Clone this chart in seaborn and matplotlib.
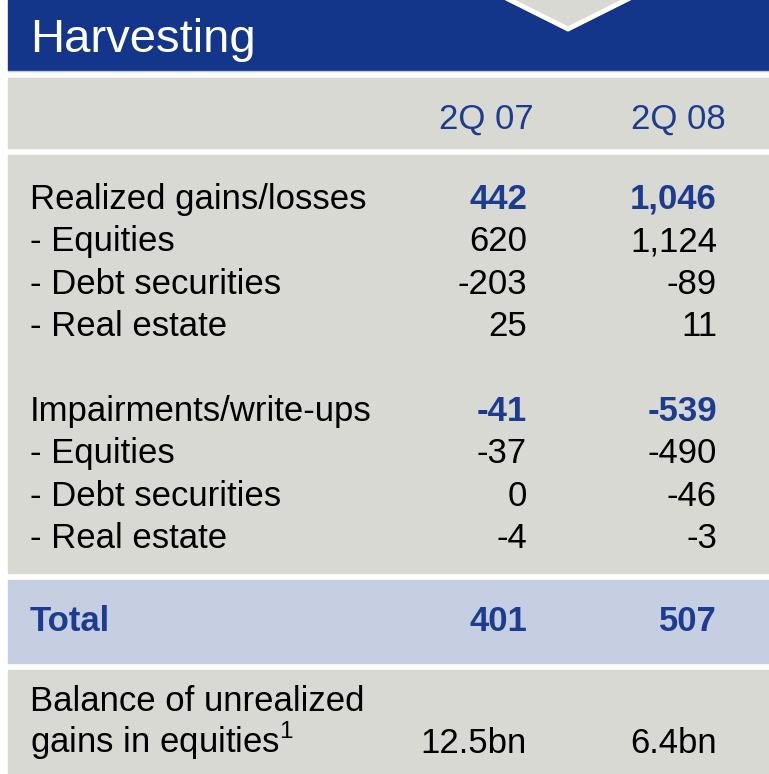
import matplotlib
matplotlib.use("Agg")
import matplotlib.pyplot as plt
import seaborn as sns
from matplotlib.patches import Rectangle, Polygon

# =====================================================
# Data
# =====================================================

title = "Harvesting"
periods = ["2Q 07", "2Q 08"]

realized_labels = ["Realized gains/losses", "- Equities", "- Debt securities", "- Real estate"]
realized_2q07 = [442, 620, -203, 25]
realized_2q08 = [1046, 1124, -89, 11]

impair_labels = ["Impairments/write-ups", "- Equities", "- Debt securities", "- Real estate"]
impair_2q07 = [-41, -37, 0, -4]
impair_2q08 = [-539, -490, -46, -3]

total_label = "Total"
total_values = [401, 507]

balance_label = ["Balance of unrealized", r"gains in equities$^{\mathregular{1}}$"]
balance_values = [12.5, 6.4]

# =====================================================
# Style
# =====================================================

sns.set_style("white")
plt.rcParams["font.family"] = ["Liberation Sans", "DejaVu Sans"]
plt.rcParams["mathtext.fontset"] = "custom"
plt.rcParams["mathtext.rm"] = "Liberation Sans"

BLUE = "#13358a"
TEXT_BLUE = "#1c3c90"
GRAY = "#d9d9d4"
LIGHT_BLUE = "#c6cee2"

W, H = 769, 774
fig = plt.figure(figsize=(W / 100, H / 100), dpi=100)
ax = fig.add_axes([0, 0, 1, 1])
ax.set_xlim(0, W)
ax.set_ylim(H, 0)
ax.axis("off")

# background bands
ax.add_patch(Rectangle((8, 0), W, 70, color=BLUE, zorder=1))
ax.plot([8, W], [70.5, 70.5], color="#b8c3de", lw=1, zorder=2)
ax.add_patch(Rectangle((8, 78), W, 70, color=GRAY, zorder=1))
ax.add_patch(Rectangle((8, 155), W, 418, color=GRAY, zorder=1))
ax.add_patch(Rectangle((8, 580), W, 83, color=LIGHT_BLUE, zorder=1))
ax.add_patch(Rectangle((8, 670), W, 110, color=GRAY, zorder=1))

# chevron at top
ax.add_patch(Polygon([(498, -6), (568, 29), (638, -6)], closed=True,
                     facecolor=GRAY, edgecolor="white", lw=3.5, zorder=3))

ax.text(30, 52, title, color="white", fontsize=34, va="baseline", ha="left", zorder=4)

# column headers
FS = 25
x_left = 30
col_right = [527, 717]
col_center = [486, 678]
for cx, p in zip(col_center, periods):
    ax.text(cx, 129, p, color=TEXT_BLUE, fontsize=FS, ha="center", va="baseline")

row_h = 42.3


def fmt(v):
    return f"{v:,}"


def draw_block(labels, v07, v08, y0):
    for i, (lab, a, b) in enumerate(zip(labels, v07, v08)):
        y = y0 + i * row_h
        first = i == 0
        color = TEXT_BLUE if first else "black"
        weight = "bold" if first else "normal"
        ax.text(x_left, y, lab, fontsize=FS, color="black", va="baseline", ha="left")
        for xr, v in zip(col_right, [a, b]):
            ax.text(xr, y, fmt(v), fontsize=FS, color=color, fontweight=weight,
                    va="baseline", ha="right")


draw_block(realized_labels, realized_2q07, realized_2q08, 209)
draw_block(impair_labels, impair_2q07, impair_2q08, 421)

# total row
ax.text(x_left, 631, total_label, fontsize=FS, color=TEXT_BLUE, fontweight="bold",
        va="baseline", ha="left")
for xr, v in zip(col_right, total_values):
    ax.text(xr, 631, fmt(v), fontsize=FS, color=TEXT_BLUE, fontweight="bold",
            va="baseline", ha="right")

# balance row
ax.text(x_left, 711, balance_label[0], fontsize=FS, color="black", va="baseline", ha="left")
ax.text(x_left, 753, balance_label[1], fontsize=FS, color="black", va="baseline", ha="left")
for xr, v in zip(col_right, balance_values):
    ax.text(xr, 753, f"{v}bn", fontsize=FS, color="black", va="baseline", ha="right")

fig.savefig("out.png", dpi=100, facecolor="white")
